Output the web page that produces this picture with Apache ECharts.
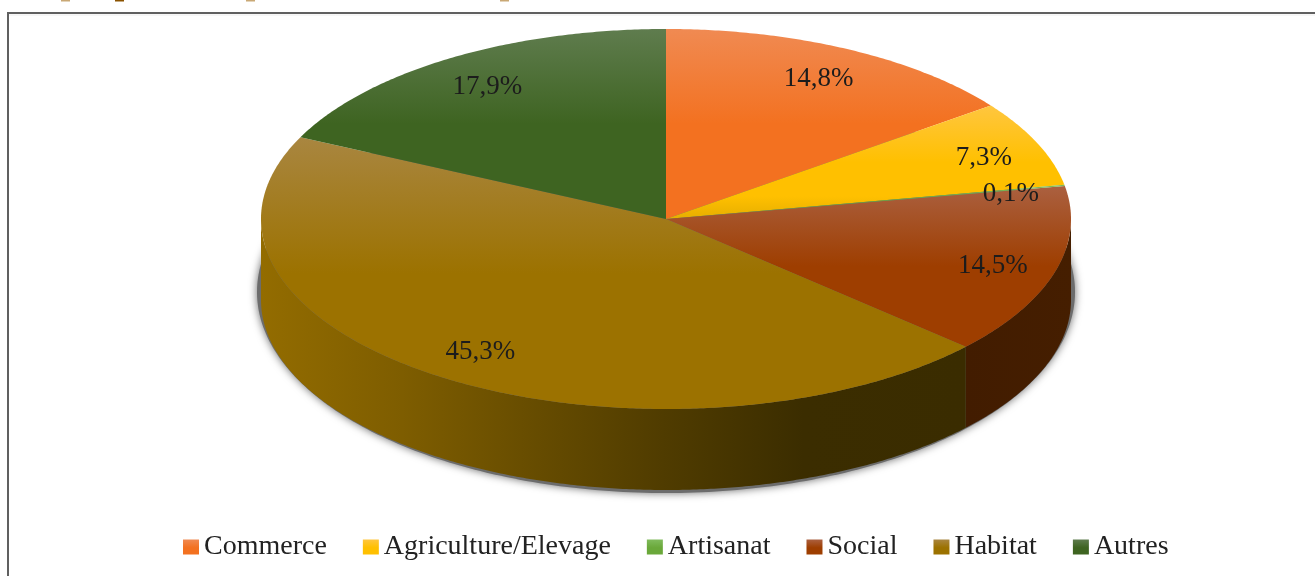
<!DOCTYPE html>
<html><head><meta charset="utf-8">
<style>html,body{margin:0;padding:0;background:#fff}#c{width:1315px;height:576px}</style>
<script src="https://cdn.jsdelivr.net/npm/echarts@6/dist/echarts.min.js"></script>
</head><body><div id="c"></div>
<script>
const categories = ['Commerce','Agriculture/Elevage','Artisanat','Social','Habitat','Autres'];
const values = [14.8,7.3,0.1,14.5,45.3,17.9];
const labels = ['14,8%','7,3%','0,1%','14,5%','45,3%','17,9%'];
const baseColors = ['#F37120','#FFC000','#6AA83A','#9E3E00','#9C7200','#3E6421'];
const lightColors = ['#F08A52','#FFC63F','#80BB5C','#AB6040','#A98640','#5F7C4E'];
const endColors = ['#F37120','#E6AE00','#6AA83A','#9E3E00','#9C7200','#3E6421'];
const sideStops = [
  [[0,'#8a3f10'],[1,'#6a3008']],
  [[0,'#8a6a00'],[1,'#705500']],
  [[0,'#3a5a20'],[1,'#3a5a20']],
  [[0,'#421C00'],[1,'#451E00']],
  [[0,'#936C00'],[0.2,'#7E5D00'],[0.57,'#503C00'],[0.77,'#3B2D00'],[1,'#3A2C00']],
  [[0,'#30501a'],[1,'#30501a']]
];
const CX=666, CY=219, RX=405, RY=190, DEPTH=81, LABEL_F=0.84;
const labelNudgeX=[0,6,10,0,4,3], labelNudgeY=[3,3,3,3,0,3];
const total = values.reduce((a,b)=>a+b,0);
const pt=(deg,f=1,dy=0)=>{const t=deg*Math.PI/180;return [CX+RX*f*Math.sin(t),CY-RY*f*Math.cos(t)+dy];};
const arc=(a,b,dy=0)=>{const n=Math.max(2,Math.ceil(Math.abs(b-a)*2));const o=[];for(let i=0;i<=n;i++)o.push(pt(a+(b-a)*i/n,1,dy));return o;};
const grad=(s)=>new echarts.graphic.LinearGradient(0,0,0,1,s);
const topGrad=i=>grad([{offset:0,color:lightColors[i]},{offset:0.5,color:baseColors[i]},{offset:0.8,color:baseColors[i]},{offset:1,color:endColors[i]}]);
const range=i=>{let s=0;for(let k=0;k<i;k++)s+=values[k];return [s/total*360,(s+values[i])/total*360];};

function renderSlice(i){
  const [a,b]=range(i);
  const children=[];
  const sa=Math.max(a,90), sb=Math.min(b,270);
  if(sb>sa){
    children.push({type:'polygon',shape:{points:arc(sa,sb).concat(arc(sb,sa,DEPTH))},
      style:{fill:new echarts.graphic.LinearGradient(0,0,1,0,sideStops[i].map(s=>({offset:s[0],color:s[1]})))},silent:true});
  }
  children.push({type:'polygon',shape:{points:[[CX,CY]].concat(arc(a,b))},style:{fill:topGrad(i)},silent:true});
  const m=pt((a+b)/2,LABEL_F);
  children.push({type:'text',z2:100,style:{x:m[0]+labelNudgeX[i],y:m[1]+labelNudgeY[i],text:labels[i],fill:'#1c1c1c',align:'center',verticalAlign:'middle',font:'27px "Liberation Serif"'},silent:true});
  return {type:'group',children};
}
const shadowSeries={type:'custom',coordinateSystem:'none',silent:true,z:1,data:[[1]],
  renderItem:()=>({type:'polygon',
    shape:{points:Array.from({length:361},(_,d)=>{const t=d*Math.PI/180;return [CX+(RX+4)*Math.sin(t),CY+DEPTH-8-(RY+11)*Math.cos(t)];})},
    style:{fill:'#6c6c6c',shadowBlur:8,shadowColor:'#6c6c6c'},silent:true})};
const sliceSeries=categories.map((name,i)=>({type:'custom',name,coordinateSystem:'none',silent:true,z:i==2?4:3,
  data:[[values[i]]],renderItem:()=>renderSlice(i)}));

const chart=echarts.init(document.getElementById('c'),null,{renderer:'canvas'});
chart.setOption({
  animation:false,
  backgroundColor:'#fff',
  legend:{left:183,top:533,padding:0,itemWidth:16,itemHeight:15,itemGap:36,selectedMode:false,
    textStyle:{fontFamily:'Liberation Serif',fontSize:28,color:'#222'},
    data:categories.map((name,i)=>({name,icon:'rect',itemStyle:{color:grad([{offset:0,color:lightColors[i]},{offset:0.55,color:baseColors[i]},{offset:1,color:baseColors[i]}])}}))},
  graphic:[
    {type:'line',silent:true,shape:{x1:8,y1:13,x2:1315,y2:13},style:{stroke:'#606060',lineWidth:2}},
    {type:'line',silent:true,shape:{x1:8,y1:12,x2:8,y2:576},style:{stroke:'#606060',lineWidth:2}},
    {type:'line',silent:true,shape:{x1:9,y1:15,x2:1315,y2:15},style:{stroke:'#eeeeee',lineWidth:1}},
    {type:'rect',silent:true,shape:{x:61,y:0,width:9,height:1.5},style:{fill:'#c9a875'}},
    {type:'rect',silent:true,shape:{x:115,y:0,width:9,height:1.5},style:{fill:'#8a5200'}},
    {type:'rect',silent:true,shape:{x:246,y:0,width:9,height:1.5},style:{fill:'#c9a875'}},
    {type:'rect',silent:true,shape:{x:500,y:0,width:9,height:1.5},style:{fill:'#c9a875'}}
  ],
  series:[shadowSeries].concat(sliceSeries)
});
</script></body></html>
